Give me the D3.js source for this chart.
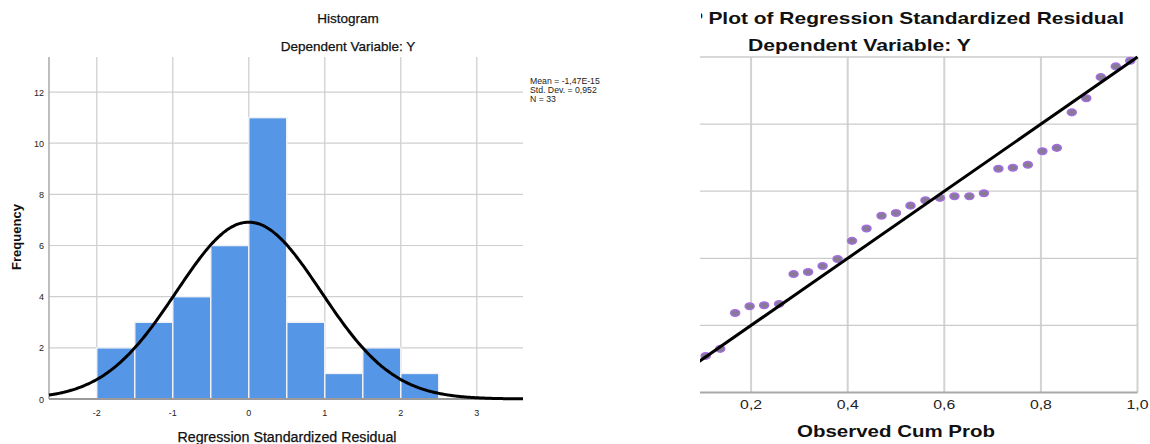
<!DOCTYPE html>
<html>
<head>
<meta charset="utf-8">
<script src="https://cdn.jsdelivr.net/npm/d3@7"></script>
<style>
  html, body { margin: 0; padding: 0; background: #fff; }
  svg { display: block; font-family: "Liberation Sans", Arial, sans-serif; }
</style>
</head>
<body>
<svg id="chart" width="1150" height="444"></svg>
<script>
// ---------- Histogram data ----------
const binStarts = [-2, -1.5, -1, -0.5, 0, 0.5, 1, 1.5, 2];
const binWidth = 0.5;
const frequencies = [2, 3, 4, 6, 11, 3, 1, 2, 1];
const histXTicks = [-2, -1, 0, 1, 2, 3];
const histYTicks = [0, 2, 4, 6, 8, 10, 12];
const statMean = -1.47e-15;
const statSD = 0.952;
const statN = 33;
const statLabels = ["Mean = -1,47E-15", "Std. Dev. = 0,952", "N = 33"];

// ---------- P-P plot data ----------
const ppObserved = [0.015, 0.045, 0.076, 0.106, 0.136, 0.167, 0.197, 0.227, 0.258, 0.288, 0.318,
  0.348, 0.379, 0.409, 0.439, 0.470, 0.500, 0.530, 0.561, 0.591, 0.621, 0.652, 0.682, 0.712,
  0.742, 0.773, 0.803, 0.833, 0.864, 0.894, 0.924, 0.955, 0.985];
const ppExpected = [0.020, 0.050, 0.080, 0.109, 0.130, 0.237, 0.257, 0.260, 0.264, 0.353, 0.359,
  0.377, 0.398, 0.452, 0.489, 0.527, 0.535, 0.557, 0.573, 0.580, 0.585, 0.585, 0.594, 0.667,
  0.670, 0.679, 0.719, 0.729, 0.835, 0.877, 0.940, 0.972, 0.989];
const ppTicks = [0.2, 0.4, 0.6, 0.8, 1.0];
const ppTickLabels = ["0,2", "0,4", "0,6", "0,8", "1,0"];

const svg = d3.select("#chart");
svg.append("rect").attr("width", 1150).attr("height", 444).attr("fill", "#fff");

// =============== LEFT: Histogram ===============
const hx = d3.scaleLinear().domain([-2.628, 3.608]).range([49, 523]);
const hy = d3.scaleLinear().domain([0, 13.37]).range([399, 57]);
const gL = svg.append("g");

// gridlines
gL.selectAll(".vg").data(histXTicks).join("line")
  .attr("x1", d => hx(d)).attr("x2", d => hx(d))
  .attr("y1", hy.range()[1]).attr("y2", hy(0))
  .attr("stroke", "#d6d6d6").attr("stroke-width", 1.5);
gL.selectAll(".hg").data(histYTicks.filter(d => d > 0)).join("line")
  .attr("x1", hx.range()[0]).attr("x2", hx.range()[1])
  .attr("y1", d => hy(d)).attr("y2", d => hy(d))
  .attr("stroke", "#cfcfcf").attr("stroke-width", 1.2);

// bars
gL.selectAll(".bar").data(frequencies).join("rect")
  .attr("x", (d, i) => hx(binStarts[i]))
  .attr("width", (d, i) => hx(binStarts[i] + binWidth) - hx(binStarts[i]))
  .attr("y", d => hy(d))
  .attr("height", d => hy(0) - hy(d))
  .attr("fill", "#5596e6")
  .attr("stroke", "#eef1f6").attr("stroke-width", 1.5);

// axes lines
gL.append("line").attr("x1", hx.range()[0]).attr("x2", hx.range()[0])
  .attr("y1", hy.range()[1]).attr("y2", hy(0))
  .attr("stroke", "#a8a8a8").attr("stroke-width", 1.5);
gL.append("line").attr("x1", hx.range()[0]).attr("x2", hx.range()[1])
  .attr("y1", hy(0)).attr("y2", hy(0))
  .attr("stroke", "#9a9a9a").attr("stroke-width", 2);

// normal curve from displayed stats
const curvePts = d3.range(0, 301).map(k => {
  const x = hx.domain()[0] + (hx.domain()[1] - hx.domain()[0]) * k / 300;
  const z = (x - statMean) / statSD;
  return [x, statN * binWidth * Math.exp(-0.5 * z * z) / (statSD * Math.sqrt(2 * Math.PI))];
});
gL.append("path").datum(curvePts)
  .attr("d", d3.line().x(d => hx(d[0])).y(d => hy(d[1])).curve(d3.curveBasis))
  .attr("fill", "none").attr("stroke", "#000").attr("stroke-width", 3);

// tick labels
gL.selectAll(".yt").data(histYTicks).join("text")
  .attr("x", 44).attr("y", d => hy(d) + 3.5)
  .attr("text-anchor", "end").attr("font-size", 9).attr("fill", "#222")
  .text(d => d);
gL.selectAll(".xt").data(histXTicks).join("text")
  .attr("x", d => hx(d)).attr("y", 416)
  .attr("text-anchor", "middle").attr("font-size", 9).attr("fill", "#222")
  .text(d => d);

// titles
gL.append("text").attr("x", 348).attr("y", 23).attr("text-anchor", "middle")
  .attr("font-size", 13.5).attr("fill", "#111").attr("stroke", "#111").attr("stroke-width", 0.25)
  .text("Histogram");
gL.append("text").attr("x", 348).attr("y", 51).attr("text-anchor", "middle")
  .attr("font-size", 13.5).attr("fill", "#111").attr("stroke", "#111").attr("stroke-width", 0.25)
  .text("Dependent Variable: Y");
gL.append("text").attr("x", 287).attr("y", 442).attr("text-anchor", "middle")
  .attr("font-size", 14).attr("fill", "#111").attr("stroke", "#111").attr("stroke-width", 0.25)
  .attr("textLength", 219).attr("lengthAdjust", "spacingAndGlyphs")
  .text("Regression Standardized Residual");
gL.append("text").attr("transform", "translate(21,237) rotate(-90)")
  .attr("text-anchor", "middle").attr("font-size", 13).attr("font-weight", "bold")
  .attr("fill", "#111").text("Frequency");

// stats box
gL.selectAll(".st").data(statLabels).join("text")
  .attr("x", 530).attr("y", (d, i) => 84 + i * 9)
  .attr("font-size", 8.7).attr("fill", "#222").text(d => d);

// =============== RIGHT: P-P plot ===============
const px = d3.scaleLinear().domain([0, 1]).range([654.5, 1137.5]);
const py = d3.scaleLinear().domain([0, 1]).range([392.5, 57]);
const defs = svg.append("defs");
defs.append("clipPath").attr("id", "clipR").append("rect")
  .attr("x", 700).attr("y", 0).attr("width", 450).attr("height", 444);
defs.append("clipPath").attr("id", "clipT").append("rect")
  .attr("x", 701).attr("y", 0).attr("width", 449).attr("height", 444);
const gR = svg.append("g").attr("clip-path", "url(#clipR)");

// gridlines
gR.selectAll(".pvg").data(ppTicks).join("line")
  .attr("x1", d => px(d)).attr("x2", d => px(d))
  .attr("y1", py(1)).attr("y2", py(0))
  .attr("stroke", "#d2d2d2").attr("stroke-width", 2);
gR.selectAll(".phg").data(ppTicks).join("line")
  .attr("x1", px(0)).attr("x2", px(1))
  .attr("y1", d => py(d)).attr("y2", d => py(d))
  .attr("stroke", "#cbcbcb").attr("stroke-width", 1.3);
gR.append("line").attr("x1", px(0)).attr("x2", px(1))
  .attr("y1", py(0)).attr("y2", py(0))
  .attr("stroke", "#a8a8a8").attr("stroke-width", 2);

// points
gR.selectAll(".pt").data(ppObserved).join("ellipse")
  .attr("cx", d => px(d)).attr("cy", (d, i) => py(ppExpected[i]))
  .attr("rx", 4.5).attr("ry", 3.3)
  .attr("fill", "#867a94").attr("stroke", "#a56ee2").attr("stroke-width", 1.5);

// reference line
gR.append("line").attr("x1", px(0)).attr("y1", py(0)).attr("x2", px(1)).attr("y2", py(1))
  .attr("stroke", "#000").attr("stroke-width", 3);

// tick labels
gR.selectAll(".pxt").data(ppTicks).join("text")
  .attr("x", d => px(d)).attr("y", 409)
  .attr("text-anchor", "middle").attr("font-size", 12).attr("fill", "#222")
  .attr("textLength", 22).attr("lengthAdjust", "spacingAndGlyphs")
  .text((d, i) => ppTickLabels[i]);

// titles (stretched bold, cropped at left)
const gT = svg.append("g").attr("clip-path", "url(#clipT)");
gT.append("text").attr("x", 590).attr("y", 24)
  .attr("font-size", 17).attr("font-weight", "bold").attr("fill", "#111")
  .attr("textLength", 534).attr("lengthAdjust", "spacingAndGlyphs")
  .text("Normal P-P Plot of Regression Standardized Residual");
gT.append("text").attr("x", 748).attr("y", 51)
  .attr("font-size", 17).attr("font-weight", "bold").attr("fill", "#111")
  .attr("textLength", 223).attr("lengthAdjust", "spacingAndGlyphs")
  .text("Dependent Variable: Y");
gT.append("text").attr("x", 797).attr("y", 437)
  .attr("font-size", 17).attr("font-weight", "bold").attr("fill", "#111")
  .attr("textLength", 198).attr("lengthAdjust", "spacingAndGlyphs")
  .text("Observed Cum Prob");
</script>
</body>
</html>
